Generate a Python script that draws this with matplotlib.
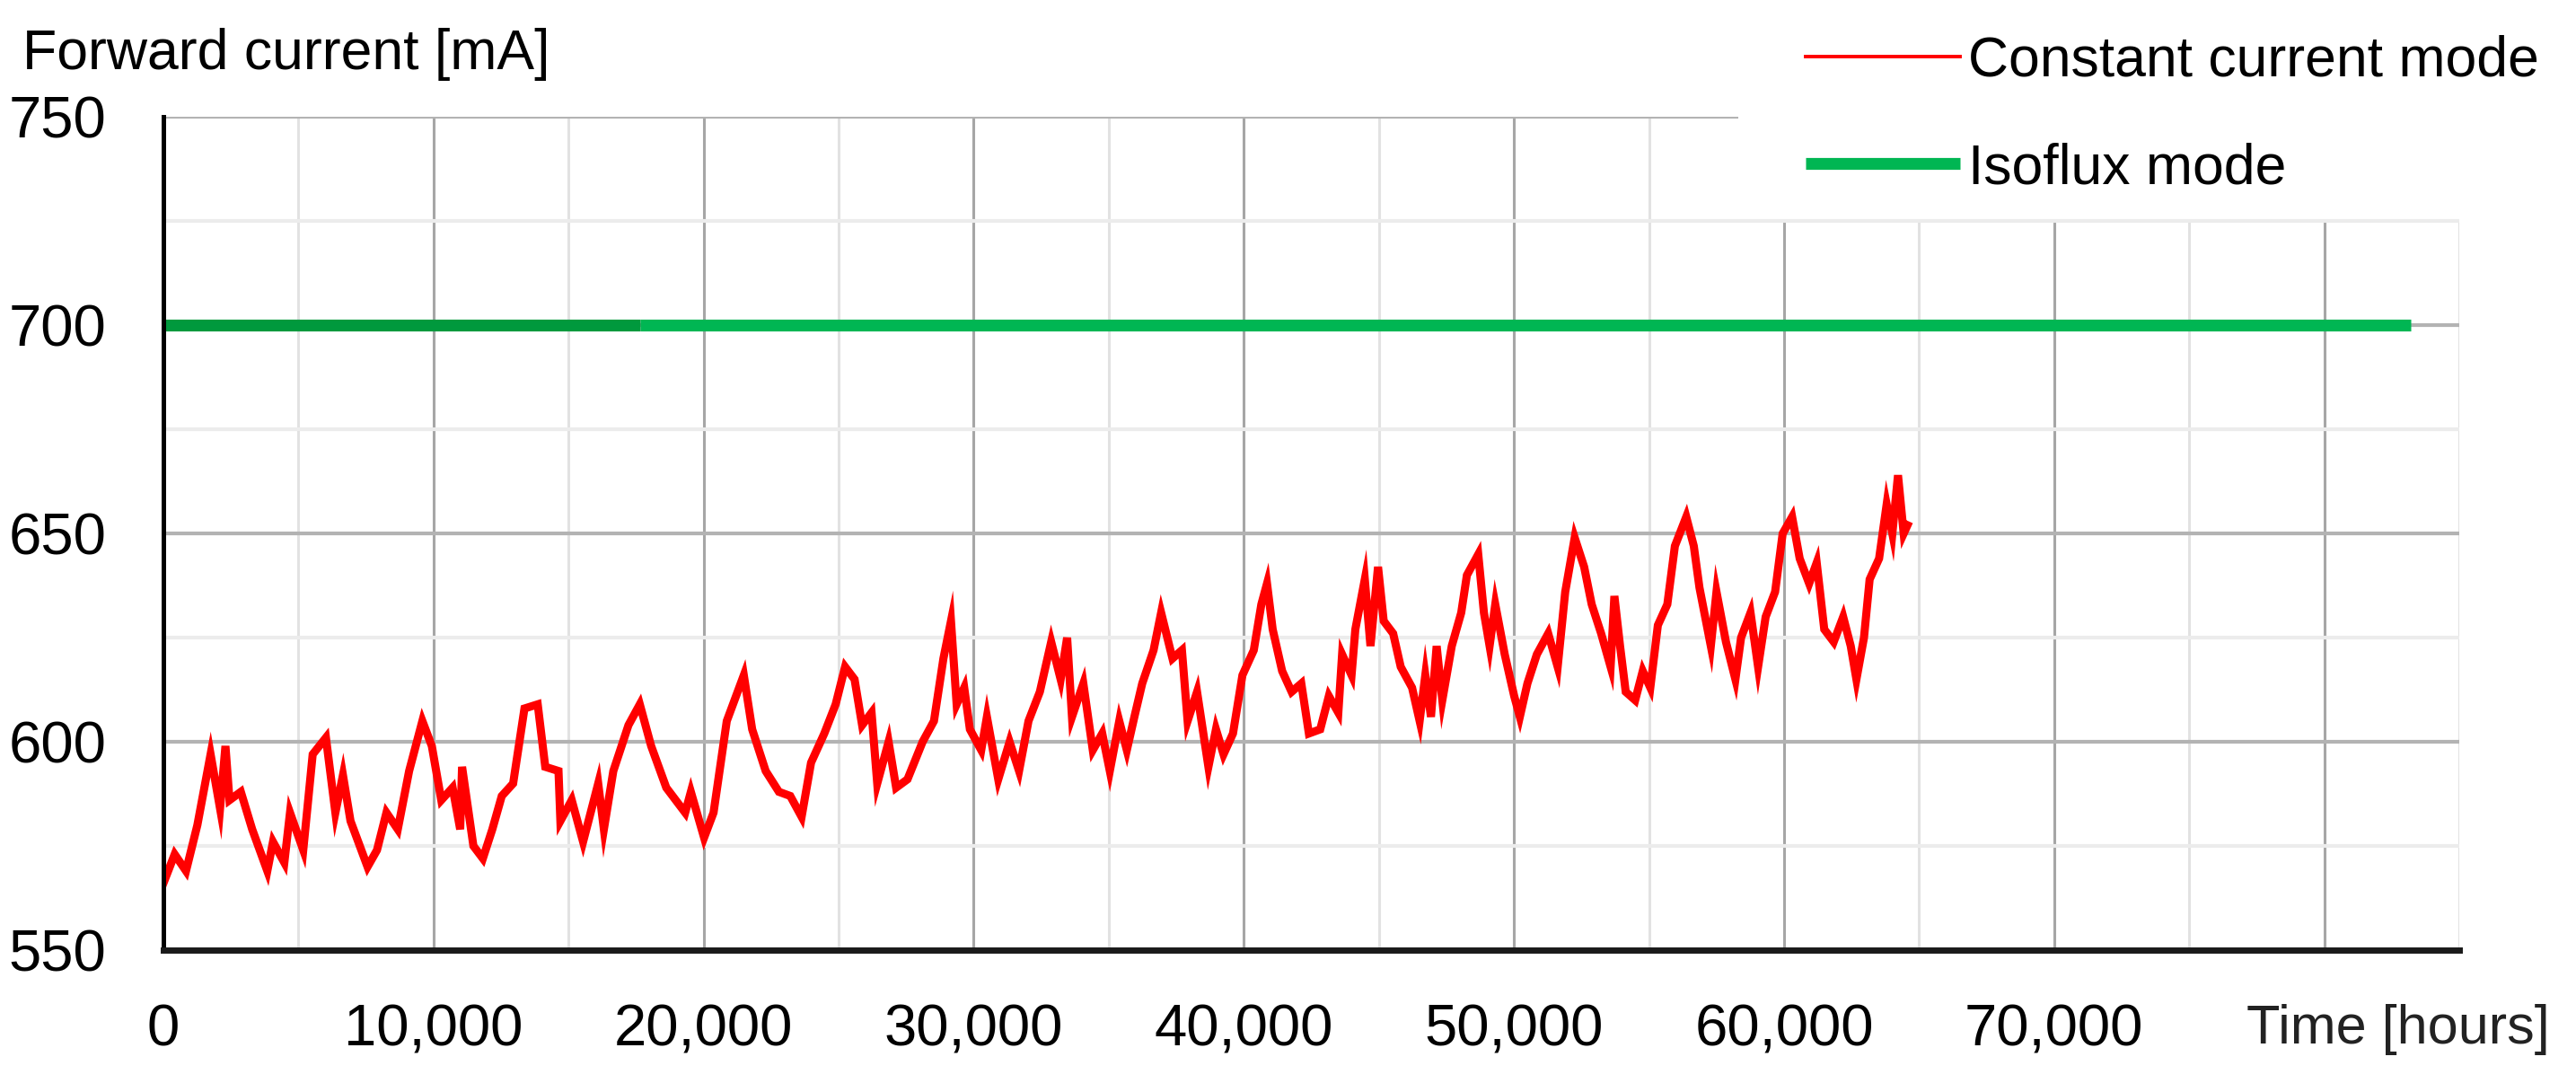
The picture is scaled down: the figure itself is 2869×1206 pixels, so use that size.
"""
Forward current vs. time: constant current mode vs. isoflux mode
"""

import matplotlib
matplotlib.use('Agg')
import matplotlib.pyplot as plt

# constant current mode (hours, mA)
cc_hours = [0, 420, 840, 1260, 1750, 2100, 2300, 2450, 2870, 3290, 3850, 4060, 4480, 4690, 5180,
            5530, 6020, 6370, 6650, 6930, 7560, 7910, 8260, 8680, 9100, 9590, 9940, 10290, 10710,
            10990, 11060, 11480, 11830, 12180, 12530, 12950, 13370, 13860, 14140, 14630, 14700,
            15120, 15540, 16100, 16310, 16660, 17220, 17640, 18060, 18620, 19320, 19530, 20020,
            20370, 20860, 21490,
            21800, 22300, 22790, 23210, 23630, 23980, 24470, 24890, 25240, 25590, 25870, 26220,
            26430, 26850, 27130, 27550, 28110, 28530, 28880, 29160, 29370, 29650, 29860, 30280,
            30490, 30910, 31330, 31680, 32030, 32450, 32870, 33220, 33460, 33640, 34060, 34410,
            34760, 35040, 35390, 35670, 35950, 36240, 36660, 36940, 37360, 37710, 37920, 38270,
            38690, 38970, 39250, 39600, 39950, 40370, 40650, 40860, 41070, 41420, 41770, 42130,
            42410, 42830,
            43150, 43500, 43640, 43990, 44130, 44480, 44690, 44970, 45180, 45530, 45810, 46230,
            46510, 46720, 46930, 47140, 47350, 47700, 48050, 48260, 48680, 48890, 49100, 49310,
            49660, 50010, 50220, 50500, 50850, 51270, 51620, 51900, 52250, 52600, 52880, 53230,
            53580, 53720, 53930, 54140, 54490, 54770, 55050, 55330, 55680, 55960, 56380, 56660,
            56870, 57290, 57500, 57850, 58200, 58410, 58760, 59040, 59320, 59670, 59950, 60300,
            60580, 60930, 61210, 61490, 61840, 62190, 62470, 62680, 62960, 63170, 63520, 63800,
            64010, 64220, 64430, 64570]
cc_ma = [566, 573, 569, 580, 597, 584, 599, 586, 588, 579, 569, 576, 571, 583, 574,
         597, 601, 583, 592, 581, 570, 574, 583, 579, 593, 605, 599, 586, 589,
         579, 594, 575, 572, 579, 587, 590, 608, 609, 594, 593, 581,
         586, 576, 590, 579, 593, 604, 609, 599, 589, 583, 588, 577,
         583, 605, 616,
         603, 593, 588, 587, 582, 595, 602, 609, 618, 615, 604, 607,
         590, 600, 589, 591, 600, 605, 620, 629, 609, 613, 603, 598,
         606, 591, 600, 593, 605, 612, 624, 615, 625, 606, 614, 598,
         602, 593, 605, 598, 606, 614, 622, 631, 620, 622, 605, 612,
         594, 603, 597, 602, 616, 622, 633, 638, 627, 617, 612, 614,
         602, 603,
         611, 607, 621, 616, 627, 639, 623, 642, 629, 626, 618, 613,
         605, 616, 606, 623, 610, 623, 631, 640, 645, 631, 623, 633,
         621, 611, 606, 614, 621, 626, 618, 636, 649, 642, 633, 626,
         618, 635, 623, 612, 610, 617, 613, 628, 633, 647, 654, 647,
         637, 623, 636, 624, 615, 625, 631, 618, 630, 636, 650, 654,
         644, 638, 643, 627, 624, 630, 623, 615, 625, 639, 644, 657,
         650, 664, 650, 652]

# isoflux mode: flat at 700 mA (first piece drawn darker in the source)
iso_hours = [0, 17650, 83200]
iso_ma = [700, 700, 700]

x_ticks = [0, 10000, 20000, 30000, 40000, 50000, 60000, 70000]
x_ticklabels = ['0', '10,000', '20,000', '30,000', '40,000', '50,000', '60,000', '70,000']
y_ticks = [550, 600, 650, 700, 750]
x_grid = list(range(0, 85001, 5000))
y_grid = [575, 600, 625, 650, 675, 700, 725, 750]
legend_gap = 58300   # top gridline stops here to leave room for legend

FONT = ['Liberation Sans', 'DejaVu Sans']
plt.rcParams['font.family'] = FONT

fig = plt.figure(figsize=(28.69, 12.06), dpi=100)
ax = fig.add_axes([0.0634, 0.1227, 0.8913, 0.7693])
ax.set_xlim(0, 85000)
ax.set_ylim(550, 750)

# gridlines
for x in x_grid:
    top = 750 if x < legend_gap else 725
    col = '#a6a6a6' if x % 10000 == 0 else '#e2e2e2'
    ax.vlines(x, 550, top, colors=col, lw=2.2, zorder=1)
for y in y_grid:
    col = '#b3b3b3' if y % 50 == 0 else '#ececec'
    xmax = legend_gap if y == 750 else 85000
    ax.hlines(y, 0, xmax, colors=col, lw=3, zorder=1)
ax.hlines(550, 0, 85000, colors='#b3b3b3', lw=3, zorder=1)

l_cc, = ax.plot(cc_hours, cc_ma, color='#ff0000', lw=6.5, zorder=3,
                solid_joinstyle='miter', label='Constant current mode')
l_iso, = ax.plot(iso_hours[1:], iso_ma[1:], color='#00b653', lw=9.5, zorder=3,
                 solid_capstyle='butt', label='Isoflux mode')
ax.plot(iso_hours[:2], iso_ma[:2], color='#00993d', lw=9.5, zorder=3, solid_capstyle='butt')

for s in ['top', 'right']:
    ax.spines[s].set_visible(False)
ax.spines['left'].set_linewidth(3.6)
ax.spines['left'].set_color('black')
ax.spines['bottom'].set_linewidth(5)
ax.spines['bottom'].set_color('#1a1a1a')
ax.spines['left'].set_zorder(4)
ax.spines['bottom'].set_zorder(4)

ax.set_xticks(x_ticks)
ax.set_xticklabels(x_ticklabels)
ax.set_yticks(y_ticks)
ax.tick_params(axis='both', length=0, labelsize=47, colors='black')
ax.tick_params(axis='x', pad=43)
ax.tick_params(axis='y', pad=46)

fig.text(0.0087, 0.936, 'Forward current [mA]', fontsize=45, va='baseline', ha='left')
fig.text(0.872, 0.0365, 'Time [hours]', fontsize=44, va='baseline', ha='left', color='#222222')

leg = fig.legend(handles=[l_cc, l_iso], loc='upper left', bbox_to_anchor=(0.701, 0.968),
                 frameon=False, fontsize=45, handlelength=2.75, handletextpad=0.15,
                 labelspacing=0.97, borderpad=0, borderaxespad=0)
leg.get_lines()[0].set_linewidth(2.8)
leg.get_lines()[1].set_linewidth(9.5)

fig.savefig('out.png', dpi=100)
